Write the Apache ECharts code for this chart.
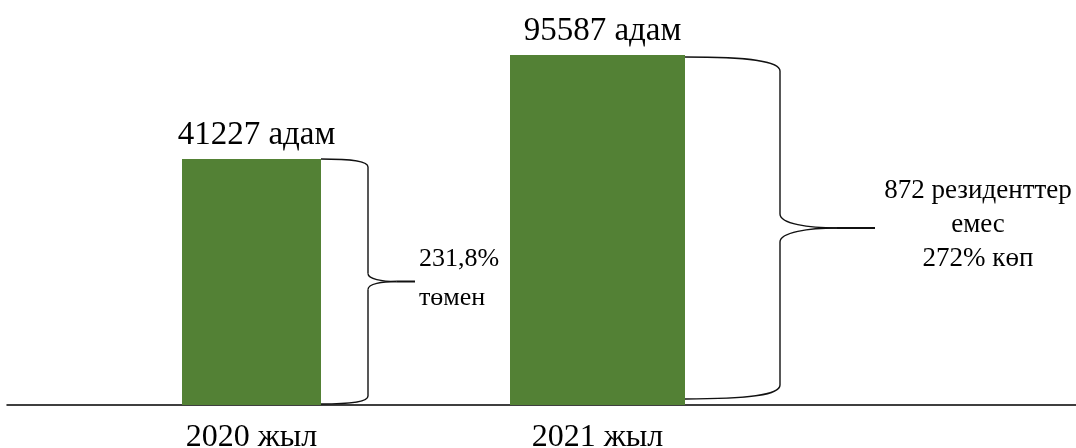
<!DOCTYPE html>
<html><head><meta charset="utf-8">
<script src="https://cdn.jsdelivr.net/npm/echarts@6/dist/echarts.min.js"></script>
<style>html,body{margin:0;padding:0;background:#fff}#c{width:1076px;height:448px}</style>
</head><body><div id="c"></div>
<script>
// ---- data ----
const categories = ['2020 жыл', '2021 жыл'];
const values = [41227, 95587];
const valueUnit = 'адам';
const notes = ['231,8%\nтөмен', '872 резиденттер\nемес\n272% көп'];

// ---- styling / layout constants ----
const FONT = '"Liberation Serif", "Times New Roman", serif';
const GREEN = '#538135';
const Y_MIN = -87350, Y_MAX = 124330;
const BAR_FRAC = [139 / 346, 175 / 346];
const BRACE_DEPTH = [47, 95];
const BRACE_CURL = [8, 14];
const BRACE_TOP_GAP = [0, 2];
const BRACE_BOTTOM_GAP = [1, 6];
const NOTE_DX = [4, 103];
const NOTE_DY = [-3, -3];
const NOTE_ALIGN = ['left', 'center'];
const NOTE_LH = [39, 34];
const NOTE_SIZE = [26, 27];

const seriesData = values.map((v, i) => [i, v]);

function renderItem(params, api) {
  const i = params.dataIndex;
  const v = api.value(1);
  const top = api.coord([i, v]);
  const base = api.coord([i, Y_MIN]);
  const band = api.size([1, 0])[0];
  const w = band * BAR_FRAC[i];
  const cx = top[0];
  const left = cx - w / 2, right = cx + w / 2;
  const tY = top[1] + BRACE_TOP_GAP[i], bY = base[1] - BRACE_BOTTOM_GAP[i];
  const mY = (tY + bY) / 2;
  const d = BRACE_DEPTH[i], c = BRACE_CURL[i];
  const xv = right + d, xt = right + 2 * d;
  const ls = { stroke: '#111', lineWidth: 1.4, fill: null };
  const children = [
    { type: 'rect', shape: { x: left, y: top[1], width: w, height: base[1] - top[1] }, style: { fill: GREEN } },
    { type: 'bezierCurve', shape: { x1: right, y1: tY, cpx1: right + d * 0.7, cpy1: tY, cpx2: xv, cpy2: tY + c * 0.3, x2: xv, y2: tY + c }, style: ls },
    { type: 'line', shape: { x1: xv, y1: tY + c, x2: xv, y2: mY - c }, style: ls },
    { type: 'bezierCurve', shape: { x1: xv, y1: mY - c, cpx1: xv, cpy1: mY - c * 0.3, cpx2: xv + d * 0.3, cpy2: mY, x2: xv + d * 0.6, y2: mY }, style: ls },
    { type: 'line', shape: { x1: xv + d * 0.6, y1: mY, x2: xt, y2: mY }, style: { stroke: '#111', lineWidth: 2 } },
    { type: 'bezierCurve', shape: { x1: xv + d * 0.6, y1: mY, cpx1: xv + d * 0.3, cpy1: mY, cpx2: xv, cpy2: mY + c * 0.3, x2: xv, y2: mY + c }, style: ls },
    { type: 'line', shape: { x1: xv, y1: mY + c, x2: xv, y2: bY - c }, style: ls },
    { type: 'bezierCurve', shape: { x1: xv, y1: bY - c, cpx1: xv, cpy1: bY - c * 0.3, cpx2: right + d * 0.7, cpy2: bY, x2: right, y2: bY }, style: ls },
    { type: 'text', style: { text: v + ' ' + valueUnit, x: cx + 5, y: top[1] - 24, align: 'center', textAlign: 'center', verticalAlign: 'middle', textVerticalAlign: 'middle', fontSize: 33, fontFamily: FONT, fill: '#000' } },
    { type: 'text', style: { text: notes[i], x: xt + NOTE_DX[i], y: mY + NOTE_DY[i], align: NOTE_ALIGN[i], textAlign: NOTE_ALIGN[i], verticalAlign: 'middle', textVerticalAlign: 'middle', lineHeight: NOTE_LH[i], fontSize: NOTE_SIZE[i], fontFamily: FONT, fill: '#000' } }
  ];
  return { type: 'group', children };
}

const chart = echarts.init(document.getElementById('c'), null, { renderer: 'canvas' });
chart.setOption({
  animation: false,
  backgroundColor: '#fff',
  grid: [
    { left: 78.5, width: 692, top: 0, bottom: 43, containLabel: false, outerBoundsMode: 'none' },
    { left: 7, right: 0, top: 0, bottom: 43, containLabel: false, outerBoundsMode: 'none' }
  ],
  xAxis: [
    { type: 'category', gridIndex: 0, data: categories,
      axisLine: { show: false }, axisTick: { show: false }, splitLine: { show: false },
      axisLabel: { fontSize: 32, fontFamily: FONT, color: '#000', margin: 33, verticalAlign: 'middle' } },
    { type: 'value', gridIndex: 1, min: 0, max: 1,
      axisLine: { show: true, lineStyle: { color: '#000', width: 1.5 } },
      axisTick: { show: false }, axisLabel: { show: false }, splitLine: { show: false } }
  ],
  yAxis: [
    { type: 'value', gridIndex: 0, min: Y_MIN, max: Y_MAX, show: false, splitLine: { show: false } },
    { type: 'value', gridIndex: 1, min: 0, max: 1, show: false, splitLine: { show: false } }
  ],
  series: [{
    type: 'custom', xAxisIndex: 0, yAxisIndex: 0,
    renderItem, data: seriesData, encode: { x: 0, y: 1 }
  }]
});
</script></body></html>
